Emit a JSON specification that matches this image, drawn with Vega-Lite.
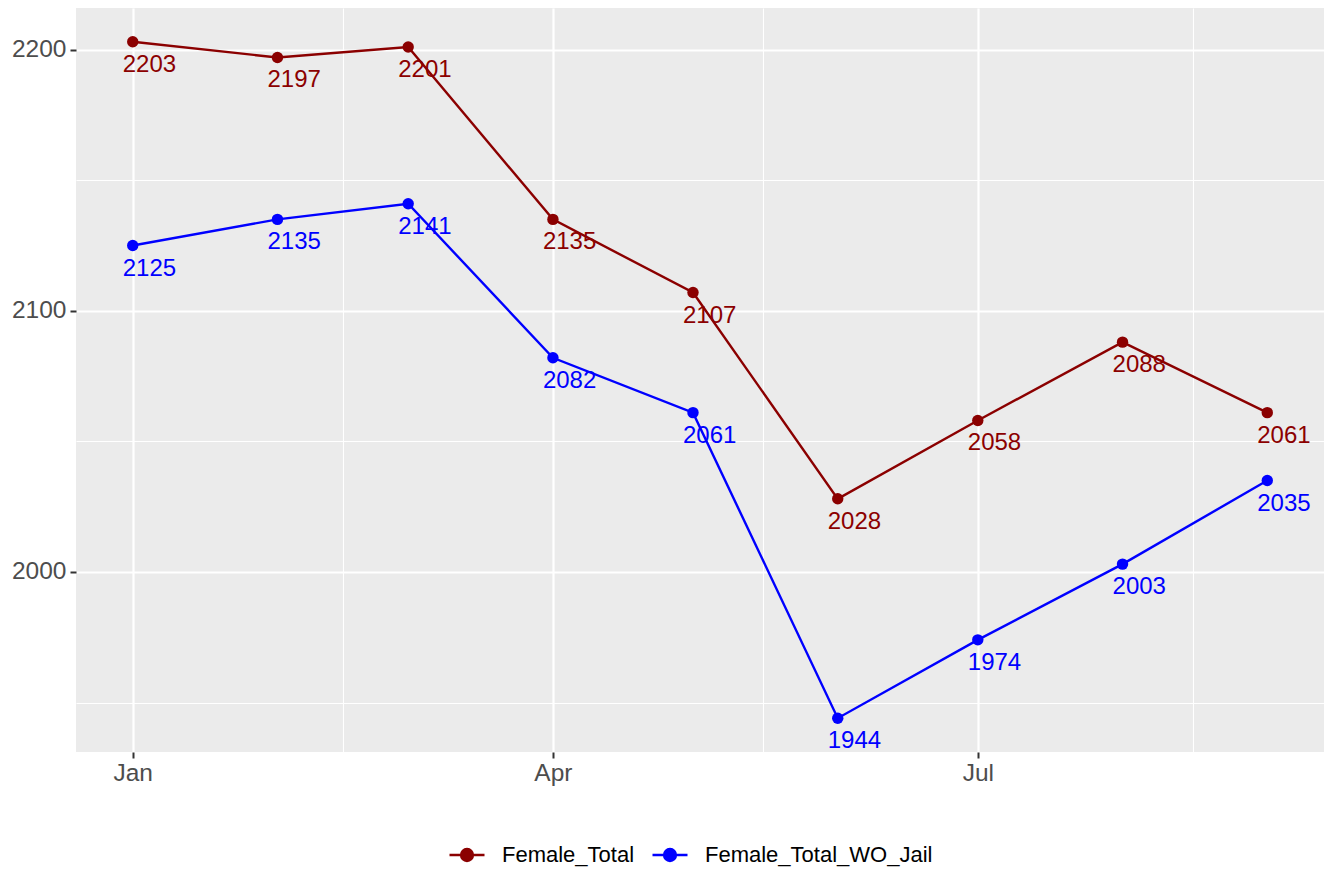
{
  "$schema": "https://vega.github.io/schema/vega-lite/v6.json",
  "autosize": {"type": "none"},
  "width": 1248,
  "height": 744,
  "padding": {"left": 76, "top": 8, "right": 4, "bottom": 128},
  "background": "white",
  "config": {
    "view": {"fill": "#EBEBEB", "stroke": null},
    "font": "Liberation Sans",
    "axis": {
      "title": null,
      "domain": false,
      "gridColor": "white",
      "labelFont": "Liberation Sans",
      "labelFontSize": 24.5,
      "labelColor": "#4D4D4D",
      "tickColor": "#333333",
      "tickWidth": 2,
      "tickSize": 6
    }
  },
  "data": {
    "values": [
      {"date": "2019-01-01", "series": "Female_Total", "value": 2203},
      {"date": "2019-02-01", "series": "Female_Total", "value": 2197},
      {"date": "2019-03-01", "series": "Female_Total", "value": 2201},
      {"date": "2019-04-01", "series": "Female_Total", "value": 2135},
      {"date": "2019-05-01", "series": "Female_Total", "value": 2107},
      {"date": "2019-06-01", "series": "Female_Total", "value": 2028},
      {"date": "2019-07-01", "series": "Female_Total", "value": 2058},
      {"date": "2019-08-01", "series": "Female_Total", "value": 2088},
      {"date": "2019-09-01", "series": "Female_Total", "value": 2061},
      {"date": "2019-01-01", "series": "Female_Total_WO_Jail", "value": 2125},
      {"date": "2019-02-01", "series": "Female_Total_WO_Jail", "value": 2135},
      {"date": "2019-03-01", "series": "Female_Total_WO_Jail", "value": 2141},
      {"date": "2019-04-01", "series": "Female_Total_WO_Jail", "value": 2082},
      {"date": "2019-05-01", "series": "Female_Total_WO_Jail", "value": 2061},
      {"date": "2019-06-01", "series": "Female_Total_WO_Jail", "value": 1944},
      {"date": "2019-07-01", "series": "Female_Total_WO_Jail", "value": 1974},
      {"date": "2019-08-01", "series": "Female_Total_WO_Jail", "value": 2003},
      {"date": "2019-09-01", "series": "Female_Total_WO_Jail", "value": 2035}
    ]
  },
  "resolve": {"axis": {"x": "independent", "y": "independent"}},
  "layer": [
    {
      "mark": {"type": "line", "strokeWidth": 2.4},
      "encoding": {
        "x": {
          "field": "date", "type": "temporal",
          "scale": {"type": "utc", "domain": [
            {"year": 2018, "month": 12, "date": 19, "hours": 20, "minutes": 24, "utc": true},
            {"year": 2019, "month": 9, "date": 13, "hours": 3, "minutes": 36, "utc": true}
          ]},
          "axis": {
            "orient": "bottom",
            "values": [
              {"year": 2019, "month": 1, "date": 1, "utc": true},
              {"year": 2019, "month": 4, "date": 1, "utc": true},
              {"year": 2019, "month": 7, "date": 1, "utc": true}
            ],
            "labelExpr": "utcFormat(datum.value, '%b')",
            "grid": true, "gridWidth": 2.2, "labelPadding": 3
          }
        },
        "y": {
          "field": "value", "type": "quantitative",
          "scale": {"domain": [1931.05, 2215.95], "nice": false, "zero": false},
          "axis": {"orient": "left", "values": [2000, 2100, 2200], "format": "d", "grid": true, "gridWidth": 2.2, "labelPadding": 4}
        },
        "color": {
          "field": "series", "type": "nominal",
          "scale": {"domain": ["Female_Total", "Female_Total_WO_Jail"], "range": ["#8B0000", "#0000FF"]},
          "legend": {
            "title": null,
            "orient": "none",
            "direction": "horizontal",
            "legendX": 372,
            "legendY": 828,
            "padding": 0,
            "symbolType": "M-1,0H1M-0.34,0A0.34,0.34,0,1,1,0.34,0A0.34,0.34,0,1,1,-0.34,0Z",
            "symbolSize": 1225,
            "symbolStrokeWidth": 2.4,
            "labelFont": "Liberation Sans",
            "labelFontSize": 22,
            "labelLimit": 0,
            "labelColor": "black",
            "labelOffset": 16,
            "columnPadding": 12,
            "encode": {
              "symbols": {
                "update": {
                  "fill": {"scale": "color", "field": "value"},
                  "stroke": {"scale": "color", "field": "value"},
                  "fillOpacity": {"value": 1},
                  "strokeWidth": {"value": 2.4}
                }
              }
            }
          }
        }
      }
    },
    {
      "mark": {"type": "point", "filled": true, "size": 130, "opacity": 1},
      "encoding": {
        "x": {
          "field": "date", "type": "temporal",
          "axis": {
            "orient": "top",
            "values": [
              {"year": 2019, "month": 2, "date": 15, "utc": true},
              {"year": 2019, "month": 5, "date": 16, "utc": true},
              {"year": 2019, "month": 8, "date": 16, "utc": true}
            ],
            "grid": true, "gridWidth": 1.1, "labels": false, "ticks": false
          }
        },
        "y": {
          "field": "value", "type": "quantitative",
          "axis": {"orient": "right", "values": [1950, 2050, 2150], "grid": true, "gridWidth": 1.1, "labels": false, "ticks": false}
        },
        "color": {"field": "series", "type": "nominal"}
      }
    },
    {
      "mark": {"type": "text", "align": "left", "baseline": "alphabetic", "dx": -10, "dy": 30, "fontSize": 24, "font": "Liberation Sans"},
      "encoding": {
        "x": {"field": "date", "type": "temporal", "axis": null},
        "y": {"field": "value", "type": "quantitative", "axis": null},
        "text": {"field": "value", "type": "quantitative", "format": "d"},
        "color": {"field": "series", "type": "nominal"}
      }
    }
  ]
}
